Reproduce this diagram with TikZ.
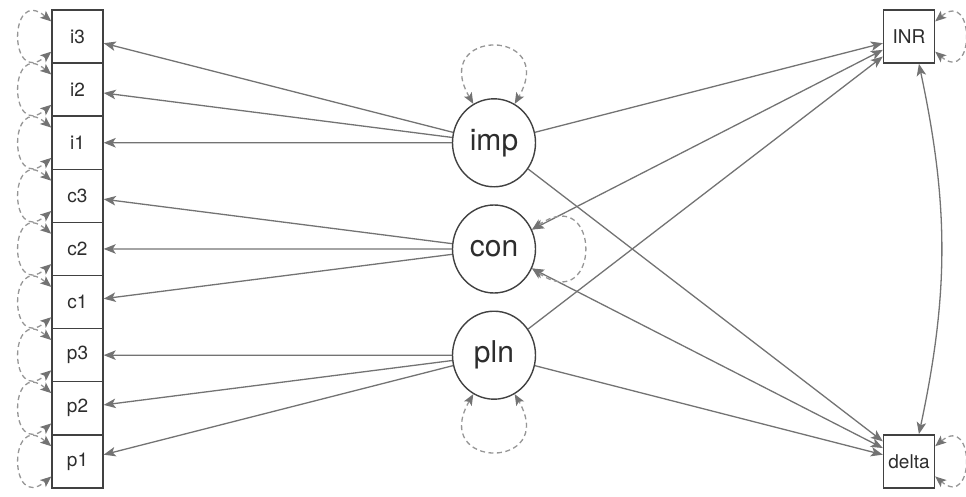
\documentclass[tikz,border=0pt]{standalone}
\usepackage{fontspec}
\setmainfont{TeX Gyre Heros}
\usetikzlibrary{arrows.meta,shapes.geometric}

\definecolor{edgegray}{RGB}{115,115,115}
\definecolor{nodegray}{RGB}{65,65,65}
\definecolor{loopgray}{RGB}{150,150,150}
\definecolor{labelgray}{RGB}{45,45,45}

\begin{document}
\begin{tikzpicture}[x=1pt,y=1pt,
    manifest/.style={draw=nodegray,line width=1.4pt,fill=white,minimum width=51pt,minimum height=53.1pt,inner sep=0pt,text=labelgray,font=\fontsize{19}{19}\selectfont},
    latent/.style={ellipse,draw=nodegray,line width=1.4pt,fill=white,minimum width=83pt,minimum height=88pt,inner sep=0pt,text=labelgray,font=\fontsize{30}{30}\selectfont},
    regr/.style={draw=edgegray,line width=1.3pt,-{Stealth[length=12pt,width=9.5pt,inset=3pt]}},
    twoway/.style={draw=edgegray,line width=1.3pt,{Stealth[length=12pt,width=9.5pt,inset=3pt]}-{Stealth[length=12pt,width=9.5pt,inset=3pt]}},
    selfloop/.style={draw=loopgray,line width=1.3pt,dash pattern=on 5pt off 3.5pt,{Stealth[length=11pt,width=9pt,inset=2.5pt,color=edgegray]}-{Stealth[length=11pt,width=9pt,inset=2.5pt,color=edgegray]}}
  ]
  \useasboundingbox (0,0) rectangle (966,496);

  \foreach \n [count=\k] in {i3,i2,i1,c3,c2,c1,p3,p2,p1}{
    \node[manifest] (\n) at (77.5,{486-53.1*(\k-0.5)}) {\n};
  }

  \node[latent] (imp) at (494,353.2) {imp};
  \node[latent] (con) at (494,247) {con};
  \node[latent] (pln) at (494,140.8) {pln};

  \node[manifest] (INR) at (909,459.45) {INR};
  \node[manifest] (delta) at (909,34.65) {delta};

  \foreach \lv/\ind in {imp/i3,imp/i2,imp/i1,con/c3,con/c2,con/c1,pln/p3,pln/p2,pln/p1}{
    \draw[regr] (\lv) -- (\ind);
  }

  \foreach \lv in {imp,pln}{
    \draw[regr] (\lv) -- (INR);
    \draw[regr] (\lv) -- (delta);
  }
  \draw[twoway] (con) -- (INR);
  \draw[twoway] (con) -- (delta);
  \draw[twoway] (INR.-70) to[bend left=12] (delta.70);

  \foreach \n in {i3,i2,i1,c3,c2,c1,p3,p2,p1}{
    \draw[selfloop] (\n.150) to[out=140,in=220,distance=56pt] (\n.210);
  }
  \draw[selfloop] (imp.118) to[out=120,in=60,distance=88pt] (imp.62);
  \draw[selfloop] (con.27) to[out=35,in=-35,distance=85pt] (con.-27);
  \draw[selfloop] (pln.-118) to[out=-120,in=-60,distance=88pt] (pln.-62);
  \foreach \n in {INR,delta}{
    \draw[selfloop] (\n.30) to[out=40,in=-40,distance=52pt] (\n.-30);
  }
\end{tikzpicture}
\end{document}
